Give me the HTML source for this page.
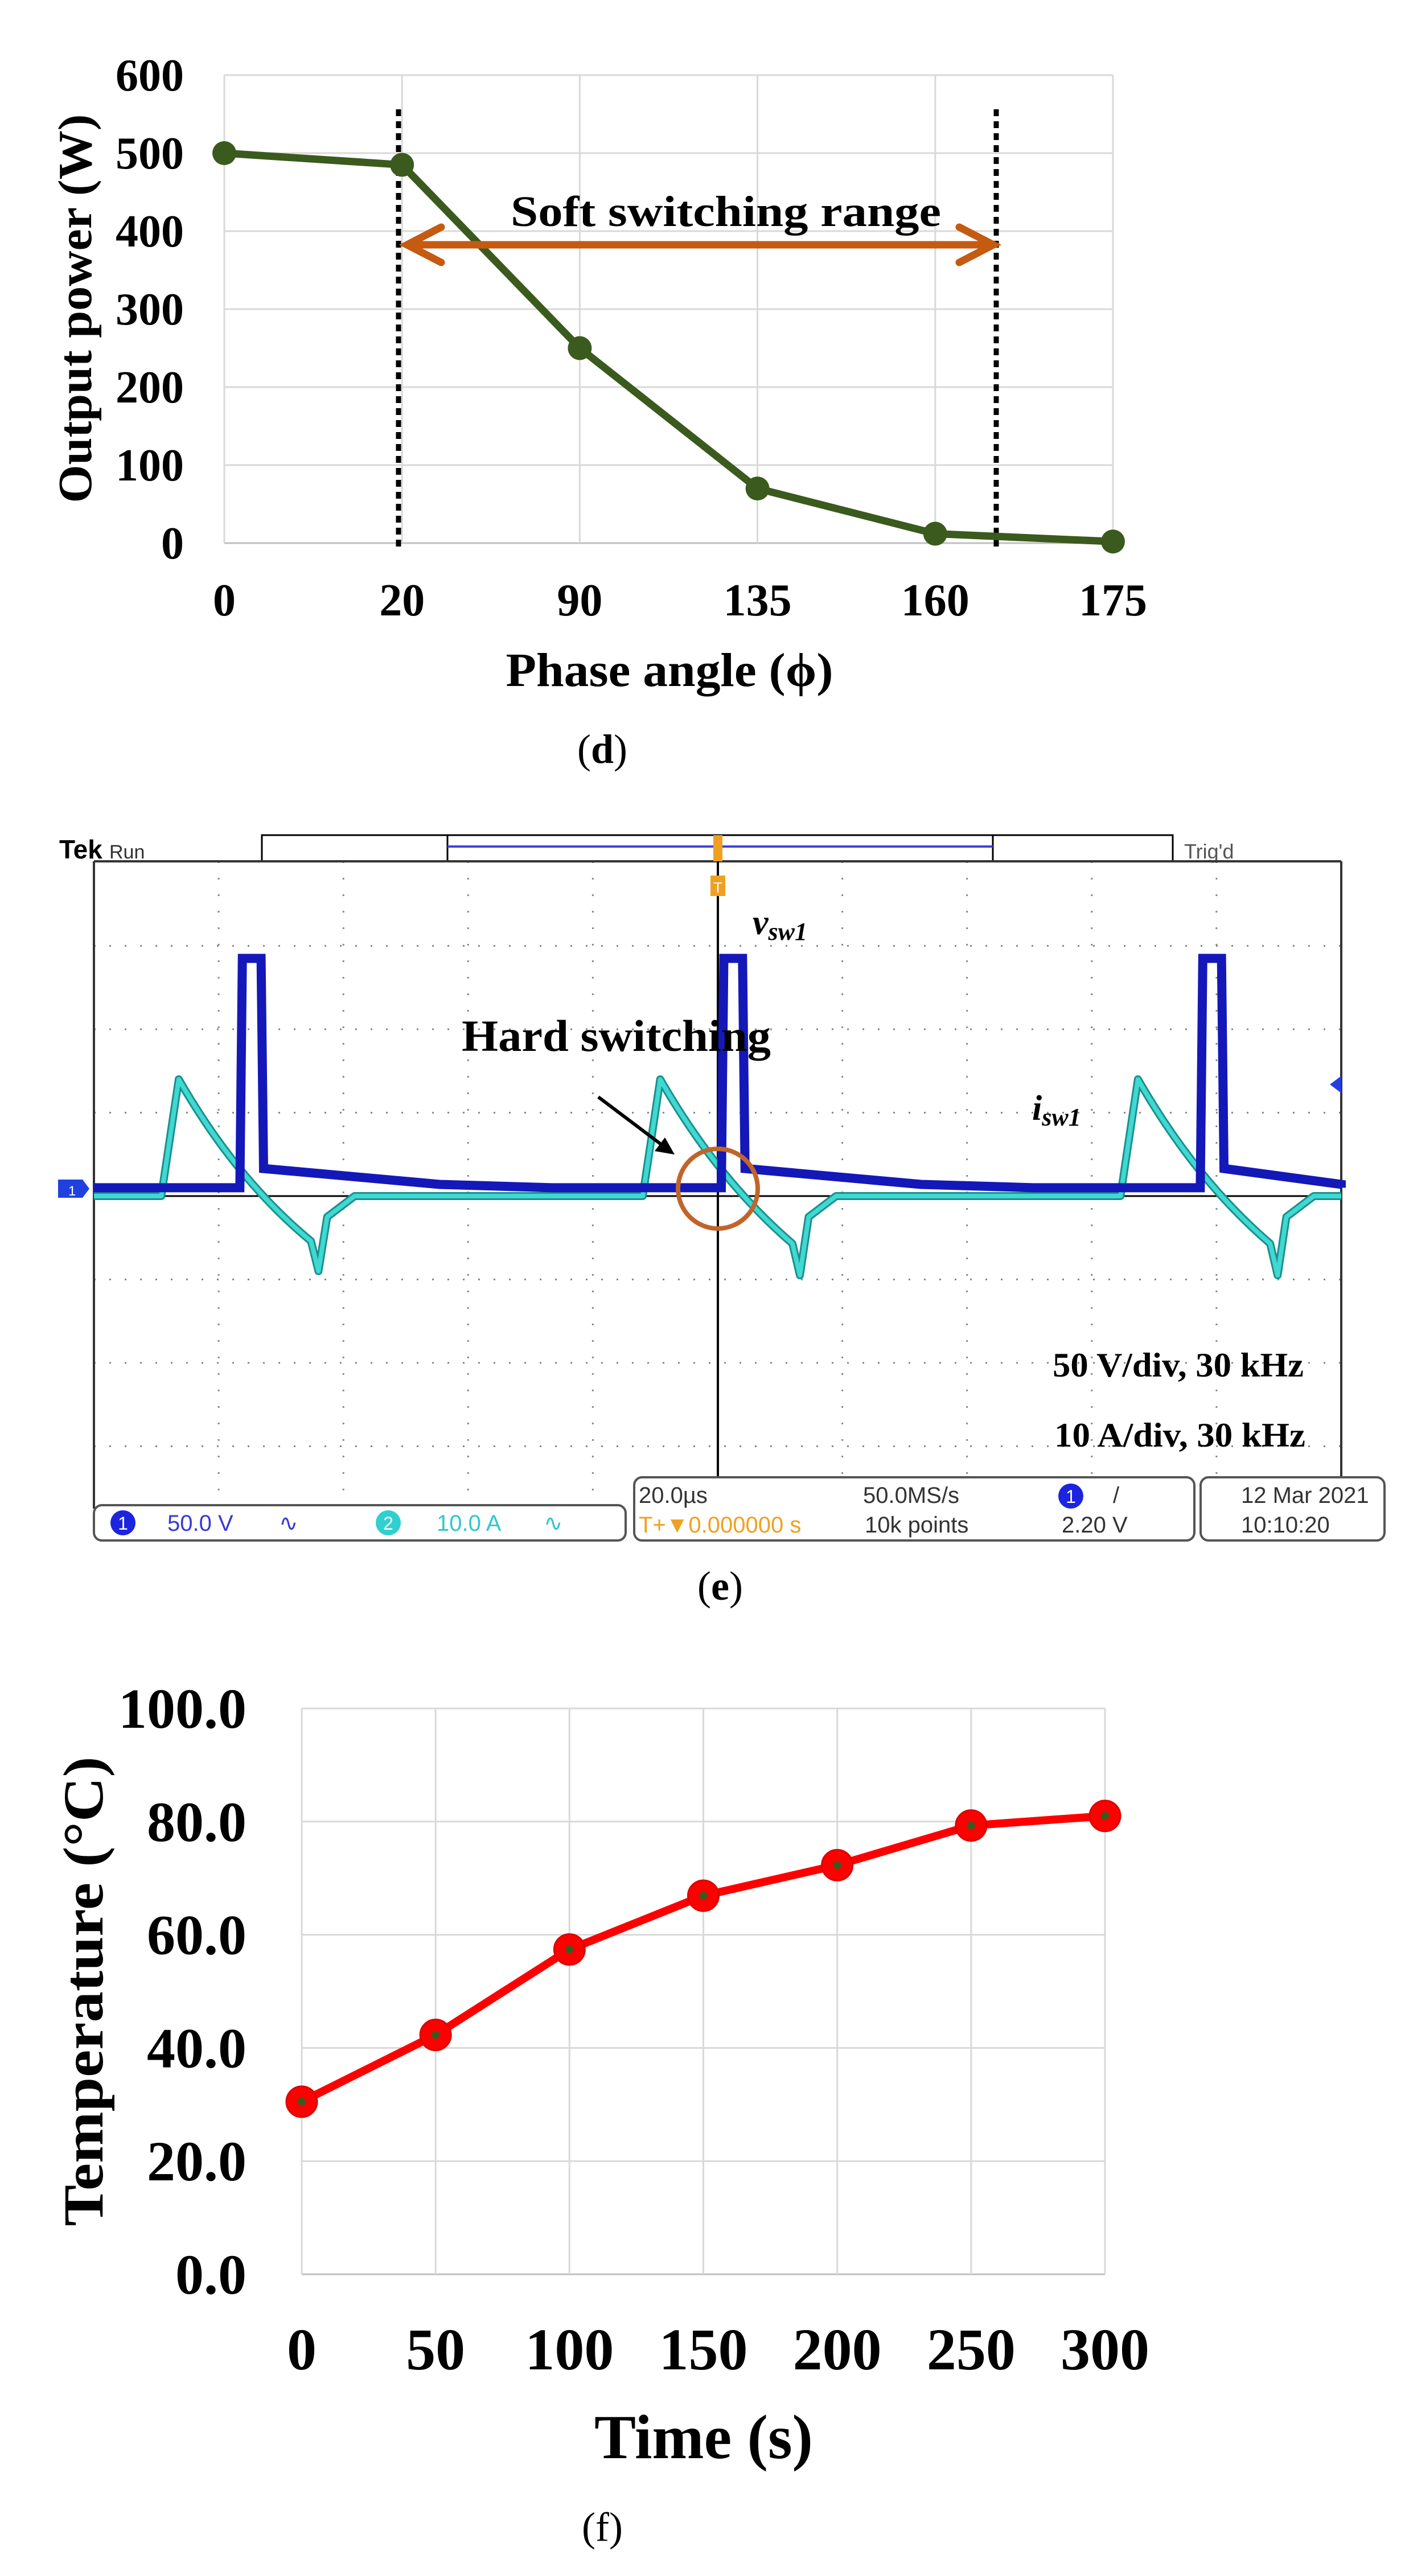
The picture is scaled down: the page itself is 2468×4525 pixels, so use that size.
<!DOCTYPE html>
<html><head><meta charset="utf-8">
<style>
html,body{margin:0;padding:0;background:#fff;}
svg{display:block;}
text{font-family:"Liberation Serif",serif;}
.sans{font-family:"Liberation Sans",sans-serif;}
</style></head>
<body>
<svg id="root" width="2468" height="4525" viewBox="0 0 2468 4525" xmlns="http://www.w3.org/2000/svg">
<rect width="2468" height="4525" fill="#fff"/>

<!-- ============ Chart (d) ============ -->
<g id="chartD">
  <g id="dGrid"></g>
  <g id="dTicks"></g>
  <line x1="700" y1="192" x2="700" y2="960" stroke="#000" stroke-width="9" stroke-dasharray="12 9"/>
  <line x1="1750" y1="192" x2="1750" y2="960" stroke="#000" stroke-width="9" stroke-dasharray="12 9"/>
  <g id="dSeries"></g>
  <g stroke="#c55a11" stroke-width="13" fill="none" stroke-linecap="round">
    <line x1="715" y1="430" x2="1745" y2="430"/>
    <polyline points="775,399 715,430 775,461"/>
    <polyline points="1685,399 1745,430 1685,461"/>
  </g>
  <text x="897" y="397" font-size="76" font-weight="bold" textLength="756" lengthAdjust="spacingAndGlyphs">Soft switching range</text>
  <text x="1176" y="1205" font-size="84" font-weight="bold" text-anchor="middle" textLength="575" lengthAdjust="spacingAndGlyphs">Phase angle (ϕ)</text>
  <text transform="translate(160,542) rotate(-90)" font-size="84" font-weight="bold" text-anchor="middle" textLength="683" lengthAdjust="spacingAndGlyphs">Output power (W)</text>
  <text x="1058" y="1340" font-size="72" text-anchor="middle">(<tspan font-weight="bold">d</tspan>)</text>
</g>

<!-- ============ Chart (e) oscilloscope ============ -->
<g id="chartE">
  <text x="104" y="1508" font-size="46" font-weight="bold" class="sans">Tek</text>
  <text x="192" y="1508" font-size="34" class="sans" fill="#333">Run</text>
  <rect x="460" y="1467" width="1600" height="46" fill="#fff" stroke="#000" stroke-width="3"/>
  <rect x="786" y="1467" width="958" height="46" fill="#fff" stroke="#000" stroke-width="3"/>
  <line x1="786" y1="1487" x2="1744" y2="1487" stroke="#4040e0" stroke-width="4"/>
  <text x="2080" y="1508" font-size="36" class="sans" fill="#555">Trig'd</text>
  <g id="eGrid"></g>
  <line x1="165" y1="1513" x2="2356" y2="1513" stroke="#333" stroke-width="4"/>
  <line x1="165" y1="1513" x2="165" y2="2650" stroke="#333" stroke-width="4"/>
  <line x1="2356" y1="1513" x2="2356" y2="2600" stroke="#333" stroke-width="4"/>
  <line x1="1261" y1="1513" x2="1261" y2="2600" stroke="#000" stroke-width="4"/>
  <line x1="165" y1="2101" x2="2356" y2="2101" stroke="#000" stroke-width="3"/>
  <g>
    <rect x="1253" y="1467" width="16" height="46" fill="#f0a020"/>
    <rect x="1248" y="1538" width="26" height="36" fill="#f0a020"/>
    <text x="1261" y="1568" font-size="26" class="sans" fill="#fff" text-anchor="middle">T</text>
  </g>
  <g id="eWaves"></g>
  <path d="M102,2072 L145,2072 L157,2088 L145,2104 L102,2104 Z" fill="#2040e0"/>
  <text x="120" y="2100" font-size="24" class="sans" fill="#fff">1</text>
  <path d="M2356,1890 L2336,1905 L2356,1920 Z" fill="#2040e0"/>

  <text x="1322" y="1641" font-size="62" font-weight="bold" font-style="italic">v<tspan font-size="44" dy="10">sw1</tspan></text>
  <text x="811" y="1846" font-size="78" font-weight="bold" textLength="543" lengthAdjust="spacingAndGlyphs">Hard switching</text>
  <text x="1813" y="1967" font-size="62" font-weight="bold" font-style="italic">i<tspan font-size="44" dy="10">sw1</tspan></text>
  <g>
    <line x1="1051" y1="1927" x2="1165" y2="2013" stroke="#000" stroke-width="6"/>
    <path d="M1185,2028 L1150,2022 L1168,1998 Z" fill="#000"/>
  </g>
  <circle cx="1261" cy="2088" r="70" fill="none" stroke="#c0652a" stroke-width="8"/>
  <text x="1849" y="2418" font-size="60" font-weight="bold" textLength="441" lengthAdjust="spacingAndGlyphs">50 V/div, 30 kHz</text>
  <text x="1852" y="2541" font-size="60" font-weight="bold" textLength="441" lengthAdjust="spacingAndGlyphs">10 A/div, 30 kHz</text>

  <g>
    <rect x="165" y="2644" width="934" height="62" rx="14" fill="#fff" stroke="#555" stroke-width="4"/>
    <circle cx="216" cy="2675" r="22" fill="#1c24e0"/>
    <text x="216" y="2687" font-size="32" class="sans" fill="#fff" text-anchor="middle">1</text>
    <text x="294" y="2689" font-size="40" class="sans" fill="#3838d8">50.0 V</text>
    <text x="490" y="2689" font-size="40" class="sans" fill="#3838d8">∿</text>
    <circle cx="682" cy="2675" r="22" fill="#30d0d0"/>
    <text x="682" y="2687" font-size="32" class="sans" fill="#fff" text-anchor="middle">2</text>
    <text x="767" y="2689" font-size="40" class="sans" fill="#30c8c8">10.0 A</text>
    <text x="955" y="2689" font-size="40" class="sans" fill="#30c8c8">∿</text>
  </g>
  <g>
    <rect x="1114" y="2595" width="984" height="111" rx="14" fill="#fff" stroke="#555" stroke-width="4"/>
    <text x="1122" y="2640" font-size="40" class="sans" fill="#333">20.0µs</text>
    <text x="1516" y="2640" font-size="40" class="sans" fill="#333">50.0MS/s</text>
    <circle cx="1881" cy="2628" r="22" fill="#1c24e0"/>
    <text x="1881" y="2640" font-size="32" class="sans" fill="#fff" text-anchor="middle">1</text>
    <text x="1955" y="2640" font-size="40" class="sans" fill="#333">/</text>
    <text x="1122" y="2692" font-size="40" class="sans" fill="#f0a020">T+▼0.000000 s</text>
    <text x="1519" y="2692" font-size="40" class="sans" fill="#333">10k points</text>
    <text x="1865" y="2692" font-size="40" class="sans" fill="#333">2.20 V</text>
  </g>
  <g>
    <rect x="2109" y="2595" width="323" height="111" rx="14" fill="#fff" stroke="#555" stroke-width="4"/>
    <text x="2180" y="2640" font-size="40" class="sans" fill="#333">12 Mar 2021</text>
    <text x="2180" y="2692" font-size="40" class="sans" fill="#333">10:10:20</text>
  </g>
  <text x="1265" y="2810" font-size="72" text-anchor="middle">(<tspan font-weight="bold">e</tspan>)</text>
</g>

<!-- ============ Chart (f) ============ -->
<g id="chartF">
  <g id="fGrid"></g>
  <g id="fTicks"></g>
  <g id="fSeries"></g>
  <text x="1236" y="4318" font-size="110" font-weight="bold" text-anchor="middle" textLength="384" lengthAdjust="spacingAndGlyphs">Time (s)</text>
  <text transform="translate(180,3498) rotate(-90)" font-size="100" font-weight="bold" text-anchor="middle" textLength="825" lengthAdjust="spacingAndGlyphs">Temperature (°C)</text>
  <text x="1058" y="4463" font-size="72" text-anchor="middle">(f)</text>
</g>
</svg>

<script>
const NS = "http://www.w3.org/2000/svg";
function mk(tag, attrs, parent){const e=document.createElementNS(NS,tag);for(const k in attrs)e.setAttribute(k,attrs[k]);parent.appendChild(e);return e;}

/* ---- chart d data ---- */
const dCategories = ["0","20","90","135","160","175"];
const dValues = [500, 485, 250, 70, 12, 2];
const dYTicks = [0,100,200,300,400,500,600];

/* ---- chart e data (divisions) ---- */
const eVoltEdges = [1.17, 5.03, 8.87];
const eVoltHigh = [2.85, 2.85, 2.85];
const eCurRise = [0.54, 4.40, 8.23];
const eCurPeak = [1.40, 1.40, 1.40];
const eCurMin = [-0.90, -0.95, -0.95];

/* ---- chart f data ---- */
const fCategories = ["0","50","100","150","200","250","300"];
const fValues = [30.5, 42.3, 57.4, 66.9, 72.3, 79.3, 81.0];
const fYTicks = [0,20,40,60,80,100];

/* ===== chart d ===== */
(function(){
  const L=394,R=1955,T=132,B=954,ymax=600;
  const xs=i=>L+(R-L)*i/(dCategories.length-1);
  const ys=v=>B-(B-T)*v/ymax;
  const g=document.getElementById('dGrid'), tk=document.getElementById('dTicks'), s=document.getElementById('dSeries');
  dYTicks.forEach(v=>{
    const l=mk('line',{x1:L,x2:R,y1:ys(v),y2:ys(v),stroke:v===0?'#bfbfbf':'#d9d9d9','stroke-width':3},g);
    
    
    const t=mk('text',{x:323,y:ys(v)+27,'font-size':80,'font-weight':'bold','text-anchor':'end'},tk);
    t.textContent=v;
    
    
  });
  dCategories.forEach((c,i)=>{
    const l=mk('line',{x1:xs(i),x2:xs(i),y1:T,y2:B,stroke:'#d9d9d9','stroke-width':3},g);
    
    
    const t=mk('text',{x:xs(i),y:1081,'font-size':80,'font-weight':'bold','text-anchor':'middle'},tk);
    t.textContent=c;
    
    
  });
  const pl=mk('polyline',{points:dValues.map((v,i)=>xs(i)+','+ys(v)).join(' '),fill:'none',stroke:'#3b5a1e','stroke-width':13,'stroke-linejoin':'round'},s);
  
  
  dValues.forEach((v,i)=>{
    const c=mk('circle',{cx:xs(i),cy:ys(v),r:21,fill:'#3b5a1e'},s);
    
    
  });
})();

/* ===== chart e ===== */
(function(){
  const L=165,R=2356,T=1513,C=2101,DIV=146.5,XD=(R-L)/10;
  const xs=d=>L+d*XD, ys=d=>C-d*DIV;
  const g=document.getElementById('eGrid'), w=document.getElementById('eWaves');
  for(let i=1;i<10;i++){ if(i===5) continue;
    const l=mk('line',{x1:xs(i),x2:xs(i),y1:T,y2:C+4*DIV,stroke:'#888','stroke-width':3,'stroke-dasharray':'3 26'},g);
    
    
  }
  for(let j=-3;j<=3;j++){ if(j===0) continue;
    const l=mk('line',{x1:L,x2:R,y1:ys(j),y2:ys(j),stroke:'#888','stroke-width':3,'stroke-dasharray':'3 24'},g);
    
    
  }
  let vd='M'+xs(0)+','+ys(0.1);
  eVoltEdges.forEach((e,i)=>{
    vd+=' L'+xs(e)+','+ys(0.1)+' L'+xs(e+0.02)+','+ys(eVoltHigh[i])+' L'+xs(e+0.17)+','+ys(eVoltHigh[i])+' L'+xs(e+0.19)+','+ys(0.33)+' L'+xs(Math.min(e+1.6,10))+','+ys(0.14)+' L'+xs(Math.min(e+2.5,10))+','+ys(0.1);
  });
  vd+=' L'+xs(10)+','+ys(0.1);
  let cd='M'+xs(0)+','+ys(0);
  eCurRise.forEach((r,i)=>{
    cd+=' L'+xs(r)+','+ys(0)+' L'+xs(r+0.14)+','+ys(eCurPeak[i])+' Q'+xs(r+0.6)+','+ys(0.2)+' '+xs(r+1.2)+','+ys(eCurMin[i]*0.6)+' L'+xs(r+1.26)+','+ys(eCurMin[i])+' L'+xs(r+1.33)+','+ys(-0.25)+' L'+xs(Math.min(r+1.55,10))+','+ys(0);
  });
  cd+=' L'+xs(10)+','+ys(0);
  const cp=mk('path',{d:cd,fill:'none',stroke:'#1a8f8f','stroke-width':14,'stroke-linejoin':'round'},w);
  
  
  const cp2=mk('path',{d:cd,fill:'none',stroke:'#40d8d0','stroke-width':8,'stroke-linejoin':'round'},w);
  
  
  const vp=mk('path',{d:vd,fill:'none',stroke:'#1418b8','stroke-width':16,'stroke-linejoin':'miter'},w);
  
  
})();

/* ===== chart f ===== */
(function(){
  const L=530,R=1941,T=3001,B=3995,ymax=100;
  const xs=i=>L+(R-L)*i/(fCategories.length-1);
  const ys=v=>B-(B-T)*v/ymax;
  const g=document.getElementById('fGrid'), tk=document.getElementById('fTicks'), s=document.getElementById('fSeries');
  fYTicks.forEach(v=>{
    const l=mk('line',{x1:L,x2:R,y1:ys(v),y2:ys(v),stroke:v===0?'#bfbfbf':'#d9d9d9','stroke-width':3},g);
    
    
    const t=mk('text',{x:433,y:ys(v)+34,'font-size':100,'font-weight':'bold','text-anchor':'end'},tk);
    t.textContent=v.toFixed(1);
    
    
  });
  fCategories.forEach((c,i)=>{
    const l=mk('line',{x1:xs(i),x2:xs(i),y1:T,y2:B,stroke:'#d9d9d9','stroke-width':3},g);
    
    
    const t=mk('text',{x:xs(i),y:4162,'font-size':104,'font-weight':'bold','text-anchor':'middle'},tk);
    t.textContent=c;
    
    
  });
  const pl=mk('polyline',{points:fValues.map((v,i)=>xs(i)+','+ys(v)).join(' '),fill:'none',stroke:'#ff0000','stroke-width':14,'stroke-linejoin':'round'},s);
  
  
  fValues.forEach((v,i)=>{
    const c=mk('circle',{cx:xs(i),cy:ys(v),r:27,fill:'#ff0000',stroke:'#e00000','stroke-width':3},s);
    
    
    const d=mk('circle',{cx:xs(i),cy:ys(v),r:7,fill:'#3b5a1e'},s);
    
    
  });
})();
</script>
</body></html>
